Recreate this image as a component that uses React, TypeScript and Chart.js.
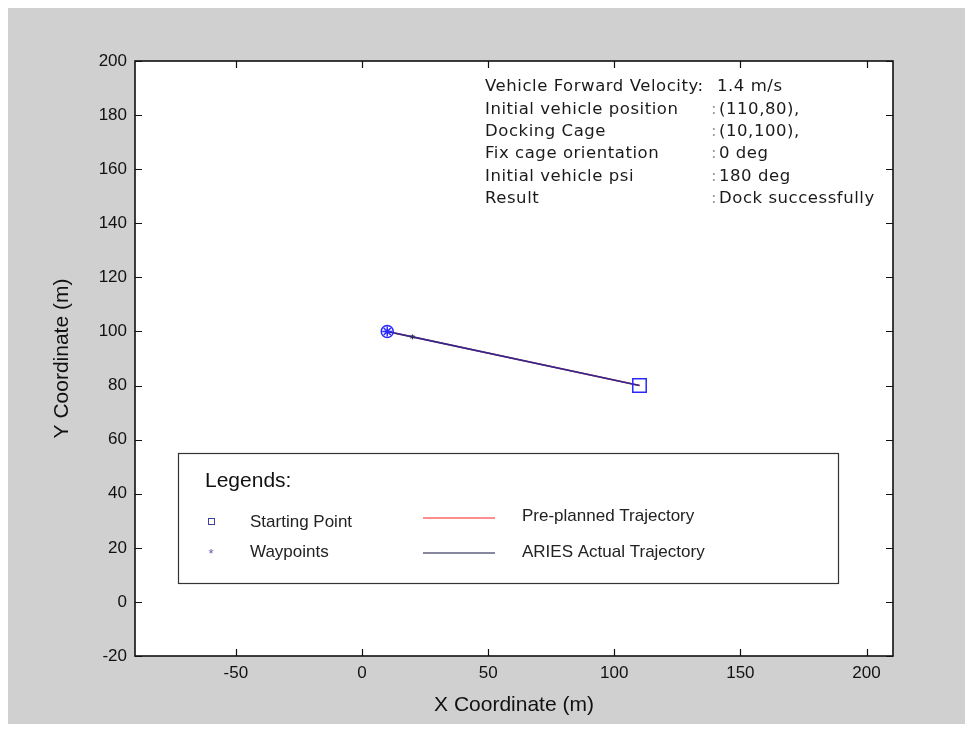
import React, { useEffect, useRef } from "react";
import { Chart, registerables } from "chart.js";

Chart.register(...registerables);

// ---- data ----
const xTicks = [-50, 0, 50, 100, 150, 200];
const yTicks = [-20, 0, 20, 40, 60, 80, 100, 120, 140, 160, 180, 200];
const xMin = -90;
const xMax = 210.5;
const yMin = -20;
const yMax = 200;

const plannedX = [110, 10];
const plannedY = [80, 100];
const actualX = [110, 20, 10];
const actualY = [80, 98, 100];
const startX = [110];
const startY = [80];
const waypointX = [10];
const waypointY = [100];
const midWaypointX = [20];
const midWaypointY = [98];

const infoLabels = [
  "Vehicle Forward Velocity",
  "Initial vehicle position",
  "Docking Cage",
  "Fix cage orientation",
  "Initial vehicle psi",
  "Result",
];
const infoValues = ["1.4 m/s", "(110,80),", "(10,100),", "0 deg", "180 deg", "Dock successfully"];

const legendTitle = "Legends:";
const legendMarkerLabels = ["Starting Point", "Waypoints"];
const legendLineLabels = ["Pre-planned Trajectory", "ARIES Actual Trajectory"];

const xTitle = "X Coordinate (m)";
const yTitle = "Y Coordinate (m)";

// ---- styles ----
const W = 958;
const H = 716;
const OFF = 8; // page offset of canvas
const BG = "#d0d0d0";
const SANS = "'Liberation Sans', Arial, Helvetica, sans-serif";
const WIDE = "'DejaVu Sans', Verdana, sans-serif";
const RED = "#ff2020";
const NAVY = "#2a2a90";
const BLUE = "#2a2aff";

const pts = (xs: number[], ys: number[]) => xs.map((x, i) => ({ x, y: ys[i] }));

const framePlugin = {
  id: "matlabFrame",
  beforeDraw(chart: any) {
    const { ctx, chartArea: a } = chart;
    ctx.save();
    ctx.fillStyle = BG;
    ctx.fillRect(0, 0, chart.width, chart.height);
    ctx.fillStyle = "#ffffff";
    ctx.fillRect(a.left, a.top, a.right - a.left, a.bottom - a.top);
    ctx.restore();
  },
  afterDatasetsDraw(chart: any) {
    const { ctx, chartArea: a, scales } = chart;
    const xs = scales.x;
    const ys = scales.y;
    const P = (p: number) => p - OFF; // page -> canvas
    ctx.save();

    // legend box
    ctx.fillStyle = "#ffffff";
    ctx.fillRect(P(178), P(453), 660, 130);
    ctx.strokeStyle = "#333";
    ctx.lineWidth = 1.2;
    ctx.strokeRect(P(178) + 0.5, P(453) + 0.5, 660, 130);

    ctx.fillStyle = "#111";
    ctx.textBaseline = "middle";
    ctx.textAlign = "left";
    ctx.font = `21px ${SANS}`;
    ctx.fillText(legendTitle, P(205), P(481));

    ctx.font = `17px ${SANS}`;
    ctx.fillStyle = "#222";
    ctx.fillText(legendMarkerLabels[0], P(250), P(522));
    ctx.fillText(legendMarkerLabels[1], P(250), P(552));
    ctx.fillText(legendLineLabels[0], P(522), P(516));
    ctx.fillText(legendLineLabels[1], P(522), P(552));

    // legend samples
    ctx.strokeStyle = "#4040a0";
    ctx.lineWidth = 1;
    ctx.strokeRect(P(208) + 0.5, P(518) + 0.5, 6, 6);
    ctx.fillStyle = "#6060a0";
    ctx.font = `13px ${SANS}`;
    ctx.textAlign = "center";
    ctx.fillText("*", P(211), P(554));
    ctx.strokeStyle = RED;
    ctx.lineWidth = 1.2;
    ctx.beginPath();
    ctx.moveTo(P(423), P(518));
    ctx.lineTo(P(495), P(518));
    ctx.stroke();
    ctx.strokeStyle = "#101040";
    ctx.beginPath();
    ctx.moveTo(P(423), P(553));
    ctx.lineTo(P(495), P(553));
    ctx.stroke();

    // info text
    ctx.font = `16.5px ${WIDE}`;
    ctx.textAlign = "left";
    (ctx as any).letterSpacing = "0.55px";
    const lineY = [87, 109.3, 131.6, 154, 176.3, 198.6];
    infoLabels.forEach((t, i) => {
      ctx.fillStyle = "#1a1a1a";
      if (i === 0) {
        ctx.fillText(t + ":", P(485), P(lineY[i]));
        ctx.fillText(infoValues[i], P(717), P(lineY[i]));
      } else {
        ctx.fillText(t, P(485), P(lineY[i]));
        ctx.fillText(infoValues[i], P(719), P(lineY[i]));
        ctx.fillStyle = "#9a9a9a";
        ctx.fillText(":", P(711), P(lineY[i]));
      }
    });
    (ctx as any).letterSpacing = "0px";

    // axes box
    ctx.strokeStyle = "#111";
    ctx.lineWidth = 1.6;
    ctx.strokeRect(a.left, a.top, a.right - a.left, a.bottom - a.top);
    // inward ticks
    const TL = 7;
    ctx.lineWidth = 1.2;
    ctx.beginPath();
    xs.ticks.forEach((t: any) => {
      const px = Math.round(xs.getPixelForValue(t.value)) + 0.5;
      ctx.moveTo(px, a.bottom);
      ctx.lineTo(px, a.bottom - TL);
      ctx.moveTo(px, a.top);
      ctx.lineTo(px, a.top + TL);
    });
    ys.ticks.forEach((t: any) => {
      const py = Math.round(ys.getPixelForValue(t.value)) + 0.5;
      ctx.moveTo(a.left, py);
      ctx.lineTo(a.left + TL, py);
      ctx.moveTo(a.right, py);
      ctx.lineTo(a.right - TL, py);
    });
    ctx.stroke();

    // axis titles
    ctx.fillStyle = "#111";
    ctx.font = `21px ${SANS}`;
    ctx.textAlign = "center";
    ctx.textBaseline = "middle";
    ctx.fillText(xTitle, (a.left + a.right) / 2, P(705));
    ctx.translate(P(62), (a.top + a.bottom) / 2);
    ctx.rotate(-Math.PI / 2);
    ctx.fillText(yTitle, 0, 0);
    ctx.restore();
  },
};

export default function App() {
  const ref = useRef<HTMLCanvasElement | null>(null);

  useEffect(() => {
    if (!ref.current) return;
    const chart = new Chart(ref.current, {
      type: "scatter",
      data: {
        datasets: [
          {
            label: "Starting Point",
            data: pts(startX, startY),
            showLine: false,
            pointStyle: "rect",
            pointRadius: 9.5,
            backgroundColor: "rgba(0,0,0,0)",
            borderColor: BLUE,
            borderWidth: 1.5,
          },
          {
            label: "Docking waypoint star",
            data: pts(waypointX, waypointY),
            showLine: false,
            pointStyle: "star",
            pointRadius: 5,
            borderColor: BLUE,
            borderWidth: 1.5,
          },
          {
            label: "Docking waypoint",
            data: pts(waypointX, waypointY),
            showLine: false,
            pointStyle: "circle",
            pointRadius: 6,
            backgroundColor: "rgba(0,0,0,0)",
            borderColor: BLUE,
            borderWidth: 1.5,
          },
          {
            label: "Waypoint",
            data: pts(midWaypointX, midWaypointY),
            showLine: false,
            pointStyle: "star",
            pointRadius: 2.5,
            borderColor: "#303060",
            borderWidth: 1,
          },
          {
            label: "ARIES Actual Trajectory",
            data: pts(actualX, actualY),
            showLine: true,
            borderColor: NAVY,
            borderWidth: 1.6,
            pointRadius: 0,
          },
          {
            label: "Pre-planned Trajectory",
            data: pts(plannedX, plannedY),
            showLine: true,
            borderColor: RED,
            borderWidth: 1.5,
            pointRadius: 0,
          },
        ],
      },
      options: {
        responsive: false,
        animation: false,
        devicePixelRatio: 1,
        layout: { padding: { top: 53, right: 73, left: 0, bottom: 0 } },
        plugins: {
          legend: { display: false },
          tooltip: { enabled: false },
          title: { display: false },
        },
        scales: {
          x: {
            type: "linear",
            min: xMin,
            max: xMax,
            grid: { display: false, drawTicks: false },
            border: { display: false },
            afterBuildTicks: (s: any) => {
              s.ticks = xTicks.map((v) => ({ value: v }));
            },
            afterFit: (s: any) => {
              s.height = 68;
            },
            ticks: {
              padding: 7,
              color: "#111",
              font: { family: SANS, size: 17 },
              maxRotation: 0,
              autoSkip: false,
            },
          },
          y: {
            type: "linear",
            min: yMin,
            max: yMax,
            grid: { display: false, drawTicks: false },
            border: { display: false },
            afterBuildTicks: (s: any) => {
              s.ticks = yTicks.map((v) => ({ value: v }));
            },
            afterFit: (s: any) => {
              s.width = 127;
            },
            ticks: {
              padding: 8,
              color: "#111",
              font: { family: SANS, size: 17 },
              autoSkip: false,
            },
          },
        },
      },
      plugins: [framePlugin],
    });
    return () => chart.destroy();
  }, []);

  return (
    <div style={{ width: W, height: H, background: BG }}>
      <canvas ref={ref} width={W} height={H} style={{ display: "block", width: W, height: H }} />
    </div>
  );
}
